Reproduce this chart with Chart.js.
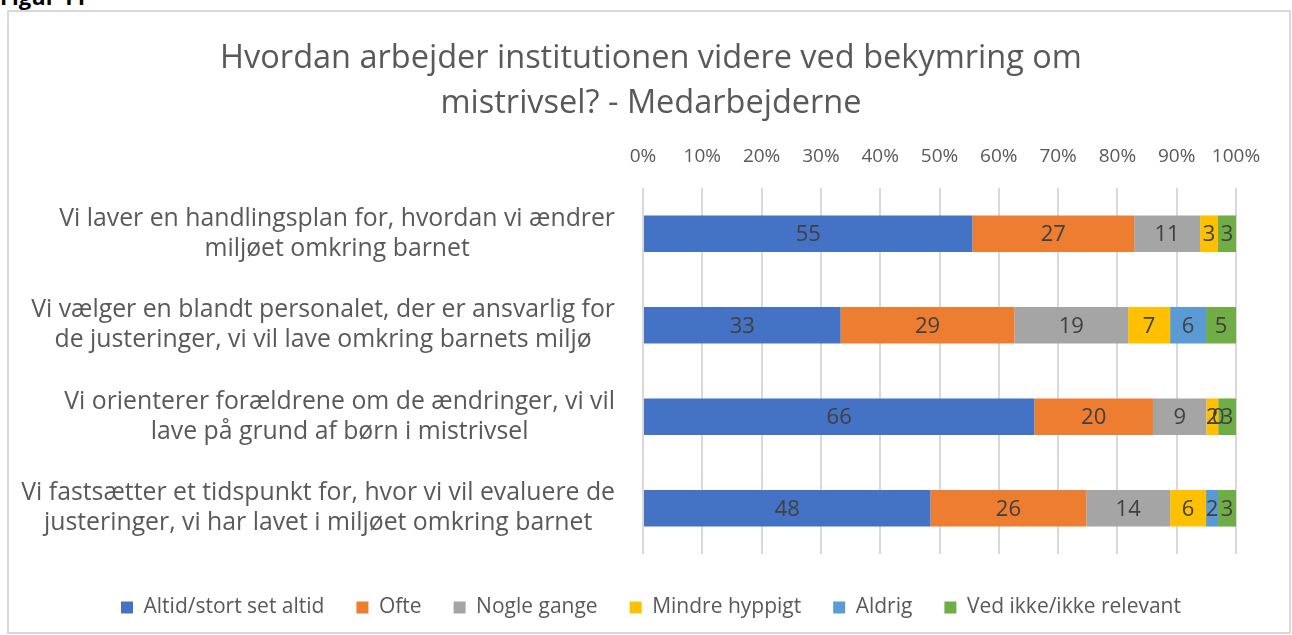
<!DOCTYPE html>
<html>
<head>
<meta charset="utf-8">
<script src="https://cdn.jsdelivr.net/npm/chart.js@4.4.1/dist/chart.umd.min.js"></script>
<style>
  html, body { margin: 0; padding: 0; background: #fff; overflow: hidden; }
  body { width: 1292px; height: 635px; position: relative; }
  #fig { position: absolute; left: 0; top: -15px; font: bold 22px 'Open Sans', sans-serif; line-height: 22px; color: #000; }
  #frame { position: absolute; left: 7px; top: 10px; width: 1284px; height: 624px; box-sizing: border-box; border: 2px solid #d9d9d9; }
  #wrap { position: absolute; left: 9px; top: 12px; width: 1280px; height: 620px; }
</style>
</head>
<body>
<div id="fig">Figur 11</div>
<div id="frame"></div>
<div id="wrap"><canvas id="c" width="1280" height="620"></canvas></div>
<script>
const titleLines = ["Hvordan arbejder institutionen videre ved bekymring om", "mistrivsel? - Medarbejderne"];
const categories = [
  ["Vi laver en handlingsplan for, hvordan vi ændrer", "miljøet omkring barnet"],
  ["Vi vælger en blandt personalet, der er ansvarlig for", "de justeringer, vi vil lave omkring barnets miljø"],
  ["Vi orienterer forældrene om de ændringer, vi vil", "lave på grund af børn i mistrivsel"],
  ["Vi fastsætter et tidspunkt for, hvor vi vil evaluere de", "justeringer, vi har lavet i miljøet omkring barnet"]
];
const seriesNames = ["Altid/stort set altid", "Ofte", "Nogle gange", "Mindre hyppigt", "Aldrig", "Ved ikke/ikke relevant"];
const altid = [55, 33, 66, 48];
const ofte = [27, 29, 20, 26];
const nogleGange = [11, 19, 9, 14];
const mindreHyppigt = [3, 7, 2, 6];
const aldrig = [null, 6, 0, 2];
const vedIkke = [3, 5, 3, 3];
const xTicks = [0, 10, 20, 30, 40, 50, 60, 70, 80, 90, 100];
const colors = ["#4472C4", "#ED7D31", "#A5A5A5", "#FFC000", "#5B9BD5", "#70AD47"];

const series = [altid, ofte, nogleGange, mindreHyppigt, aldrig, vedIkke];
const rowTotals = categories.map((_, i) => series.reduce((s, arr) => s + (arr[i] || 0), 0));

const FONT = "'Open Sans', sans-serif";

const datasets = series.map((arr, k) => ({
  label: seriesNames[k],
  data: arr.map((v, i) => v === null ? null : v / rowTotals[i] * 100),
  raw: arr,
  backgroundColor: colors[k],
  borderWidth: 0,
  barPercentage: 0.4,
  categoryPercentage: 1.0
}));

const catLabelPlugin = {
  id: 'catLabels',
  afterDraw(chart) {
    const ctx = chart.ctx;
    const ys = chart.scales.y;
    const rightEdge = 606;
    const lh = 30;
    ctx.save();
    ctx.font = "24.8px " + FONT;
    ctx.fillStyle = "#595959";
    ctx.textAlign = "center";
    ctx.textBaseline = "middle";
    categories.forEach((lines, i) => {
      const y = ys.getPixelForValue(i);
      const w = Math.max(...lines.map(l => ctx.measureText(l).width));
      const cx = rightEdge - w / 2;
      const y0 = y - (lines.length - 1) * lh / 2;
      lines.forEach((l, j) => ctx.fillText(l, cx, y0 + j * lh));
    });
    ctx.restore();
  }
};

const valueLabelPlugin = {
  id: 'valueLabels',
  afterDatasetsDraw(chart) {
    const ctx = chart.ctx;
    ctx.save();
    ctx.font = "22px " + FONT;
    ctx.fillStyle = "#404040";
    ctx.textAlign = "center";
    ctx.textBaseline = "middle";
    chart.data.datasets.forEach((ds, k) => {
      const meta = chart.getDatasetMeta(k);
      meta.data.forEach((el, i) => {
        const v = ds.raw[i];
        if (v === null || v === undefined) return;
        const cx = (el.x + el.base) / 2;
        ctx.fillText(String(v), cx, el.y + 1);
      });
    });
    ctx.restore();
  }
};

new Chart(document.getElementById('c'), {
  type: 'bar',
  data: { labels: categories.map(c => c.join(' ')), datasets },
  options: {
    responsive: false,
    animation: false,
    indexAxis: 'y',
    layout: { padding: { left: 57, right: 53, top: 8, bottom: 4 } },
    plugins: {
      title: {
        display: true,
        text: titleLines,
        color: "#595959",
        font: { family: FONT, size: 32.5, weight: 'normal', lineHeight: 1.4 },
        padding: { top: 15.5, bottom: 19.5 }
      },
      legend: {
        position: 'bottom',
        title: { display: true, text: ' ', font: { size: 11, lineHeight: 1 }, padding: 0 },
        labels: {
          boxWidth: 12, boxHeight: 12, padding: 32,
          color: "#595959",
          font: { family: FONT, size: 21 }
        }
      },
      tooltip: { enabled: false }
    },
    scales: {
      x: {
        position: 'top',
        stacked: true,
        min: 0, max: 100,
        afterBuildTicks: s => { s.ticks = xTicks.map(v => ({ value: v })); },
        ticks: { callback: v => v + '%', color: "#595959", font: { family: FONT, size: 19 }, padding: 20, maxRotation: 0 },
        grid: { color: "#d9d9d9", lineWidth: 2, drawTicks: false },
        border: { display: false },
        afterFit: s => { s.height = 42; }
      },
      y: {
        stacked: true,
        ticks: { display: false },
        grid: { display: false },
        border: { display: false },
        afterFit: s => { s.width = 577; }
      }
    }
  },
  plugins: [catLabelPlugin, valueLabelPlugin]
});
</script>
</body>
</html>
